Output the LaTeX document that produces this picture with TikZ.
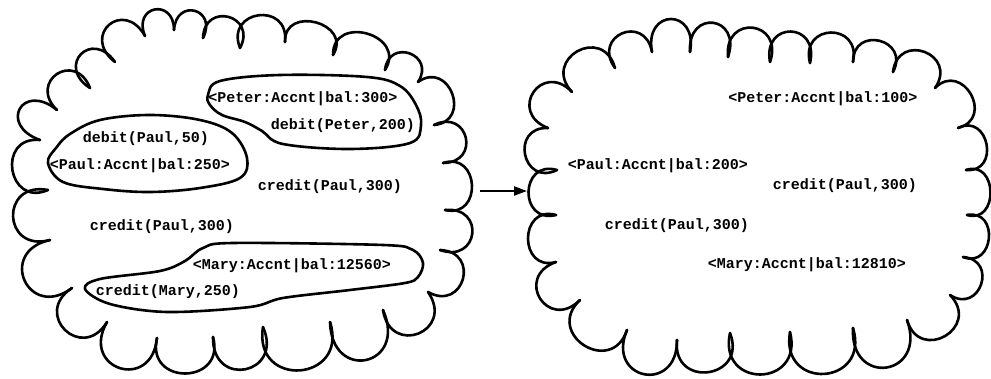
\documentclass[tikz,border=0pt]{standalone}
\usepackage{fontspec}
\setmonofont{Liberation Mono}
\usetikzlibrary{arrows.meta}

\tikzset{
  outline/.style={line width=2.6pt, line join=round, line cap=round},
  blob/.style={line width=2.6pt, line join=round},
  term/.style={font=\ttfamily\bfseries\fontsize{15}{17}\selectfont, inner sep=0pt, anchor=center},
  move/.style={line width=2.2pt, -{Triangle[length=13pt,width=9pt]}},
}

% Scalloped boundary: one lobe from each cusp to the next, bulging outward
% (to the left of the direction of travel). #1,#2 first cusp; #3 list of
% next-cusp x / next-cusp y / lobe height.
\newcommand\lobeline[3]{%
  \foreach \bx/\by/\h [remember=\bx as \ax (initially #1),
                       remember=\by as \ay (initially #2)] in {#3}{
    \pgfmathsetmacro\cdx{\bx-\ax}
    \pgfmathsetmacro\cdy{\by-\ay}
    \pgfmathsetmacro\clen{veclen(\cdx,\cdy)}
    \pgfmathsetmacro\cnx{\cdy/\clen*\h/0.75}
    \pgfmathsetmacro\cny{-\cdx/\clen*\h/0.75}
    \draw[outline] (\ax,\ay)
      .. controls ({\ax+\cnx-0.22*\cdx},{\ay+\cny-0.22*\cdy})
             and ({\bx+\cnx+0.22*\cdx},{\by+\cny+0.22*\cdy}) .. (\bx,\by);
  }%
}

\begin{document}
\begin{tikzpicture}[x=1pt,y=-1pt]
  \useasboundingbox (0,0) rectangle (991,379);

  % left configuration
  \lobeline{48}{190}{
    40/140/32, 57/110/33, 90/88/30, 115/62/30, 145/36/32, 174/30/24,
    203/38/24, 240/48/27, 285/42/30, 333/55/27, 385/70/30, 418/82/24,
    434/125/28, 443/163/28, 445/210/28, 440/250/30, 428/292/30,
    383/310/35, 330/322/45, 263/327/46, 213/337/38, 157/338/36,
    107/322/40, 72/288/35, 50/240/40, 48/190/36}

  % right configuration
  \lobeline{556}{215}{
    557/170/28, 548/128/28, 572/92/32, 615/68/33, 652/52/29, 690/52/33,
    728/57/32, 770/62/32, 810/63/31, 853/62/30, 893/72/27, 935/88/30,
    958/128/28, 966/170/25, 967/215/24, 963/257/24, 950/295/26,
    907/320/33, 853/328/44, 790/332/44, 730/333/42, 677/340/36,
    627/330/40, 580/300/36, 556/262/33, 556/215/28}

  % left configuration: groups of terms
  \draw[blob] plot[smooth cycle, tension=0.6] coordinates {
    (208,95) (220,81) (280,75) (367,77) (400,86) (416,105) (421,125)
    (410,143) (350,149) (283,144) (262,131) (245,122) (222,115) (210,105)};
  \draw[blob] plot[smooth cycle, tension=0.6] coordinates {
    (48,163) (56,148) (70,134) (100,120) (150,115) (200,120) (232,133)
    (247,158) (240,178) (200,188) (150,192) (103,189) (63,182)};
  \draw[blob] plot[smooth cycle, tension=0.55] coordinates {
    (85,289) (100,279) (160,271) (185,261) (203,248) (233,243) (383,245)
    (413,250) (423,263) (418,277) (405,283) (350,290) (283,298) (250,307)
    (167,312) (110,304)};

  % left configuration: terms
  \node[term] (peterA) at (303,99)  {<Peter:Accnt|bal:300>};
  \node[term] (debitP) at (343,126) {debit(Peter,200)};
  \node[term] (debitA) at (146,139) {debit(Paul,50)};
  \node[term] (paulA)  at (140,166) {<Paul:Accnt|bal:250>};
  \node[term] (credA)  at (330,187) {credit(Paul,300)};
  \node[term] (credB)  at (162,227) {credit(Paul,300)};
  \node[term] (maryA)  at (292,266) {<Mary:Accnt|bal:12560>};
  \node[term] (credM)  at (168,292) {credit(Mary,250)};

  % right configuration: terms
  \node[term] (peterB) at (823,99)  {<Peter:Accnt|bal:100>};
  \node[term] (paulB)  at (658,166) {<Paul:Accnt|bal:200>};
  \node[term] (credC)  at (845,186) {credit(Paul,300)};
  \node[term] (credD)  at (677,226) {credit(Paul,300)};
  \node[term] (maryB)  at (807,265) {<Mary:Accnt|bal:12810>};

  % rewrite step
  \coordinate (from) at (480,191);
  \coordinate (to)   at (527,191);
  \draw[move] (from) -- (to);
\end{tikzpicture}
\end{document}
